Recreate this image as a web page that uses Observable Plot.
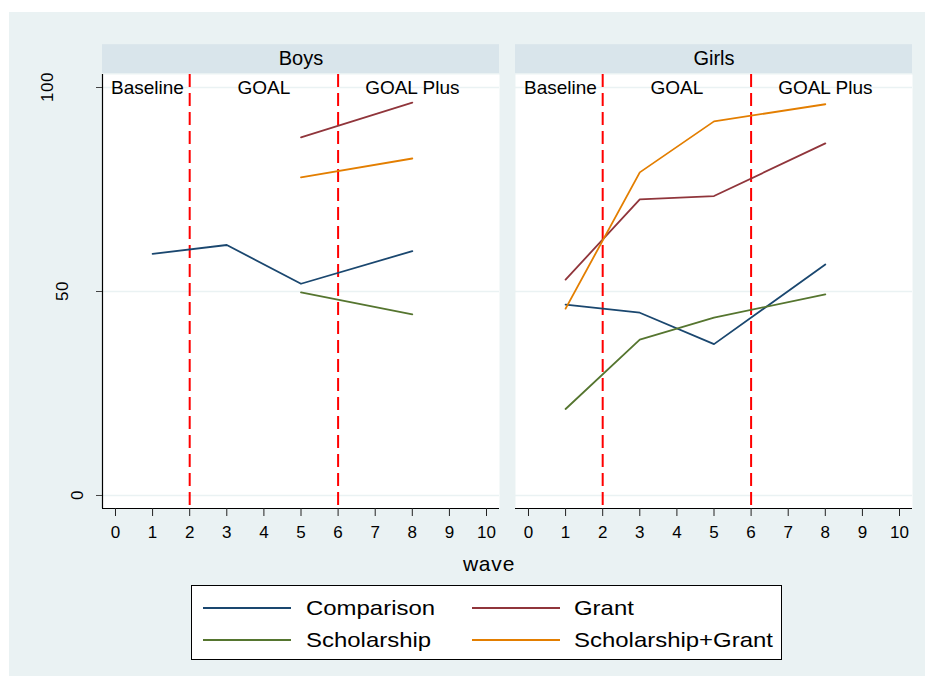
<!DOCTYPE html>
<html>
<head>
<meta charset="utf-8">
<script src="https://cdn.jsdelivr.net/npm/d3@7"></script>
<script src="https://cdn.jsdelivr.net/npm/@observablehq/plot@0.6"></script>
<style>
  body { margin: 0; background: #ffffff; font-family: "Liberation Sans", Arial, sans-serif; }
  #bg { position: absolute; left: 9px; top: 12px; width: 916px; height: 664px; background: #eaf2f3; }
  #wave { position: absolute; left: 489px; top: 552px; transform: translateX(-50%); font-size: 21px; letter-spacing: 0.8px; color: #000; }
  #legend { position: absolute; left: 191px; top: 585px; width: 589px; height: 73px; background: #fff; border: 1px solid #000; }
  .li { position: absolute; height: 0; border-top: 2px solid; width: 88px; }
  .lt { position: absolute; font-size: 21px; line-height: 24px; transform: scaleX(1.14); transform-origin: left center; white-space: nowrap; color: #000; }
  .ylab { position: absolute; font-size: 17px; line-height: 17px; white-space: nowrap; color: #000; transform: translate(-50%, -50%) rotate(-90deg); letter-spacing: 0.5px; }
</style>
</head>
<body>
<div id="bg"><div id="chart"></div></div>
<div id="ylabels"></div>
<div id="wave">wave</div>
<div id="legend"></div>
<script>
// ---- data ----
const sexes = ["Boys", "Girls"];
const groups = ["Comparison", "Grant", "Scholarship", "Scholarship+Grant"];
const groupColors = ["#1a476f", "#90353b", "#55752f", "#e37e00"];

const boysComparisonWaves = [1, 3, 5, 8];
const boysComparison = [59.2, 61.4, 51.9, 59.9];
const boysGrantWaves = [5, 8];
const boysGrant = [87.8, 96.3];
const boysScholarshipWaves = [5, 8];
const boysScholarship = [49.8, 44.4];
const boysSGWaves = [5, 8];
const boysSG = [78.0, 82.6];

const girlsWaves = [1, 3, 5, 8];
const girlsComparison = [46.8, 44.8, 37.1, 56.6];
const girlsGrant = [52.9, 72.6, 73.4, 86.3];
const girlsScholarship = [21.2, 38.2, 43.6, 49.3];
const girlsSG = [45.8, 79.2, 91.7, 95.9];

const phaseNames = ["Baseline", "GOAL", "GOAL Plus"];
const phaseX = [0.86, 4, 8];
const phaseCuts = [2, 6];
const xTicks = [0, 1, 2, 3, 4, 5, 6, 7, 8, 9, 10];
const yTicks = [0, 50, 100];

// ---- build table ----
function series(sex, group, waves, vals) {
  return waves.map((w, i) => ({ sex, group, wave: w, value: vals[i] }));
}
const rows = [
  ...series("Boys", "Comparison", boysComparisonWaves, boysComparison),
  ...series("Boys", "Grant", boysGrantWaves, boysGrant),
  ...series("Boys", "Scholarship", boysScholarshipWaves, boysScholarship),
  ...series("Boys", "Scholarship+Grant", boysSGWaves, boysSG),
  ...series("Girls", "Comparison", girlsWaves, girlsComparison),
  ...series("Girls", "Grant", girlsWaves, girlsGrant),
  ...series("Girls", "Scholarship", girlsWaves, girlsScholarship),
  ...series("Girls", "Scholarship+Grant", girlsWaves, girlsSG)
];
const phases = phaseNames.map((n, i) => ({ name: n, x: phaseX[i] }));

const xMin = -0.35, xMax = 10.35;
const yMin = -3.19, yMax = 103.19, stripTop = 110.5;
const font = "Liberation Sans, Arial, sans-serif";

const chart = Plot.plot({
  width: 916,
  height: 572,
  marginTop: 62,
  marginBottom: 76,
  marginLeft: 92,
  marginRight: 12,
  style: { fontFamily: font, fontSize: "17px", background: "transparent", overflow: "visible", color: "#000" },
  fx: { domain: sexes, paddingInner: 0.0386, paddingOuter: 0, axis: null, label: null },
  x: { domain: [xMin, xMax], label: null },
  y: { domain: [yMin, yMax], label: null },
  color: { domain: groups, range: groupColors },
  marks: [
    Plot.rect(sexes, { fx: d => d, x1: xMin, x2: xMax, y1: yMax + 0.25, y2: stripTop, fill: "#d9e5eb" }),
    Plot.frame({ fill: "white", stroke: "none" }),
    Plot.ruleY(yTicks, { stroke: "#eaf2f3", strokeWidth: 1.6 }),
    Plot.ruleX(phaseCuts, { stroke: "#ff0000", strokeWidth: 2, strokeDasharray: "13,6" }),
    Plot.line(rows, { x: "wave", y: "value", z: "group", stroke: "group", fx: "sex", strokeWidth: 1.8 }),
    Plot.text(phases, { x: "x", y: 100, text: "name", fontSize: 19, lineAnchor: "middle", style: "letter-spacing:1px" }),
    Plot.text(sexes, { fx: d => d, text: d => d, frameAnchor: "top", dy: -16, lineAnchor: "middle", fontSize: 20 }),
    Plot.ruleY([yMin], { stroke: "#000", strokeWidth: 1.2 }),
    Plot.ruleX([{ sex: "Boys" }], { fx: "sex", x: () => xMin, stroke: "#000", strokeWidth: 1.2 }),
    Plot.axisY({ ticks: yTicks, tickSize: 6, tickFormat: () => "", facetAnchor: "left", stroke: "#444" }),
    Plot.axisX({ ticks: xTicks, tickSize: 8, tickPadding: 9, fontSize: 17, label: null, stroke: "#222" })
  ]
});
document.getElementById("chart").appendChild(chart);

// y tick labels, rotated to read bottom-to-top, placed with Plot's own y scale
// (as in the reference export, longer labels sit further from the axis)
const yScale = chart.scale("y");
const ylabels = document.getElementById("ylabels");
const chartTop = 12;
yTicks.forEach(v => {
  const s = String(v);
  const d = document.createElement("div");
  d.className = "ylab";
  d.textContent = s;
  d.style.left = (92 - 15 * s.length) + "px";
  d.style.top = (chartTop + yScale.apply(v)) + "px";
  ylabels.appendChild(d);
});

// ---- legend ----
const legend = document.getElementById("legend");
const colLine = [11, 280], colText = [114, 382], rowY = [22, 54];
groups.forEach((g, i) => {
  const c = i % 2, r = Math.floor(i / 2);
  const ln = document.createElement("div");
  ln.className = "li";
  ln.style.left = colLine[c] + "px";
  ln.style.top = (rowY[r] - 1) + "px";
  ln.style.borderColor = groupColors[i];
  legend.appendChild(ln);
  const t = document.createElement("div");
  t.className = "lt";
  t.textContent = g;
  t.style.left = colText[c] + "px";
  t.style.top = (rowY[r] - 12) + "px";
  legend.appendChild(t);
});
</script>
</body>
</html>
